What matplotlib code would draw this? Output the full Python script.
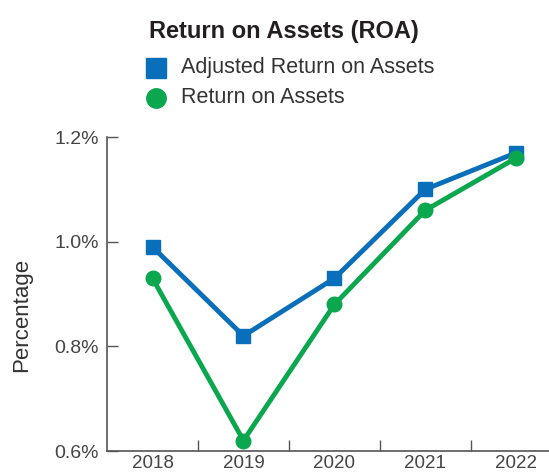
import matplotlib.pyplot as plt
import numpy as np
from matplotlib.ticker import FixedLocator

plt.rcParams['font.family'] = ['Liberation Sans', 'DejaVu Sans']

years = ['2018', '2019', '2020', '2021', '2022']
adjusted_roa = [0.99, 0.82, 0.93, 1.10, 1.17]
roa = [0.93, 0.62, 0.88, 1.06, 1.16]
y_ticks = [0.6, 0.8, 1.0, 1.2]

blue = '#0a6fba'
green = '#0aa74f'
grey = '#555555'
txt = '#231f20'

fig = plt.figure(figsize=(5.49, 4.75), dpi=100)
ax = fig.add_axes([0.195, 0.0505, 0.805, 0.661])

x = np.arange(len(years))
ax.plot(x, adjusted_roa, color=blue, lw=3.5, marker='s', ms=10.5, zorder=3)
ax.plot(x, roa, color=green, lw=3.5, marker='o', ms=10.5, zorder=3)

ax.set_xlim(-0.5, 4.36)
ax.set_ylim(0.6, 1.2)
ax.set_yticks(y_ticks)
ax.set_yticklabels([f'{v:.1f}%' for v in y_ticks], fontsize=14, color='#444444')
ax.set_xticks(x)
ax.set_xticklabels(years, fontsize=13.5, color='#444444')
ax.xaxis.set_minor_locator(FixedLocator(x[:-1] + 0.5))
ax.tick_params(axis='x', which='major', length=0, pad=3)
ax.tick_params(axis='x', which='minor', direction='in', length=8, color=grey, width=1)
ax.tick_params(axis='y', direction='in', length=8, color=grey, width=1, pad=6)

for s in ['top', 'right']:
    ax.spines[s].set_visible(False)
for s in ['left', 'bottom']:
    ax.spines[s].set_color(grey)
    ax.spines[s].set_linewidth(1.2)

ax.set_ylabel('Percentage', fontsize=16, color='#333333')
ax.yaxis.set_label_coords(-0.17, 0.433)

fig.text(0.517, 0.933, 'Return on Assets (ROA)', fontsize=17, fontweight='bold',
         color=txt, ha='center', va='center')
fig.lines.append(plt.Line2D([0.2835], [0.857], transform=fig.transFigure, marker='s',
                            ms=14, color=blue, ls='none'))
fig.lines.append(plt.Line2D([0.2835], [0.794], transform=fig.transFigure, marker='o',
                            ms=14, color=green, ls='none'))
fig.text(0.33, 0.857, 'Adjusted Return on Assets', fontsize=15.5, color='#333333', va='center')
fig.text(0.33, 0.794, 'Return on Assets', fontsize=15.5, color='#333333', va='center')

fig.savefig('out.png', dpi=100)
